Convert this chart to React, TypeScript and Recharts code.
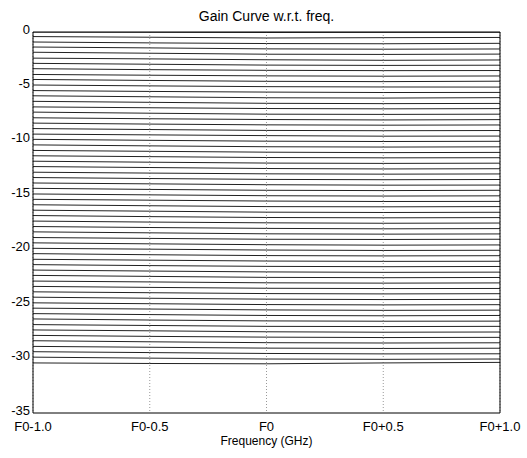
import React from 'react';
import { LineChart, Line, XAxis, YAxis, CartesianGrid } from 'recharts';

// frequency points (GHz offset from F0) and their tick labels
const freqOffsets = [-1, -0.5, 0, 0.5, 1];
const freqLabels = ['F0-1.0', 'F0-0.5', 'F0', 'F0+0.5', 'F0+1.0'];
const gainTicks = [0, -5, -10, -15, -20, -25, -30, -35];

// one row per attenuation state, gain (dB) at each freq point
const gainCurves: number[][] = [
  [0.0, -0.02, -0.04, -0.03, -0.02],
  [-0.42, -0.48, -0.55, -0.52, -0.5],
  [-0.92, -1.0, -1.06, -1.08, -1.04],
  [-1.38, -1.46, -1.55, -1.58, -1.56],
  [-1.86, -1.95, -2.04, -2.06, -2.03],
  [-2.4, -2.47, -2.55, -2.6, -2.57],
  [-2.88, -2.96, -3.04, -3.07, -3.05],
  [-3.37, -3.46, -3.52, -3.55, -3.54],
  [-3.9, -3.97, -4.03, -4.06, -4.04],
  [-4.36, -4.45, -4.53, -4.56, -4.52],
  [-4.87, -4.95, -5.02, -5.05, -5.06],
  [-5.38, -5.46, -5.52, -5.56, -5.55],
  [-5.86, -5.95, -6.04, -6.07, -6.03],
  [-6.37, -6.46, -6.55, -6.58, -6.56],
  [-6.88, -6.96, -7.03, -7.06, -7.04],
  [-7.36, -7.46, -7.55, -7.57, -7.55],
  [-7.88, -7.97, -8.04, -8.08, -8.05],
  [-8.37, -8.46, -8.53, -8.56, -8.54],
  [-8.87, -8.96, -9.04, -9.07, -9.05],
  [-9.38, -9.45, -9.52, -9.57, -9.56],
  [-9.86, -9.95, -10.03, -10.06, -10.04],
  [-10.37, -10.46, -10.54, -10.57, -10.55],
  [-10.88, -10.96, -11.04, -11.08, -11.06],
  [-11.37, -11.45, -11.53, -11.56, -11.55],
  [-11.87, -11.96, -12.04, -12.07, -12.05],
  [-12.36, -12.45, -12.54, -12.58, -12.56],
  [-12.88, -12.96, -13.03, -13.06, -13.04],
  [-13.37, -13.46, -13.54, -13.57, -13.55],
  [-13.87, -13.95, -14.03, -14.07, -14.06],
  [-14.36, -14.46, -14.54, -14.57, -14.54],
  [-14.88, -14.96, -15.04, -15.07, -15.05],
  [-15.37, -15.45, -15.53, -15.57, -15.56],
  [-15.87, -15.96, -16.04, -16.06, -16.04],
  [-16.37, -16.46, -16.55, -16.58, -16.56],
  [-16.86, -16.96, -17.04, -17.07, -17.05],
  [-17.37, -17.46, -17.53, -17.57, -17.55],
  [-17.87, -17.96, -18.04, -18.08, -18.06],
  [-18.36, -18.45, -18.54, -18.57, -18.55],
  [-18.88, -18.96, -19.04, -19.06, -19.04],
  [-19.37, -19.46, -19.54, -19.58, -19.56],
  [-19.87, -19.95, -20.03, -20.07, -20.05],
  [-20.36, -20.46, -20.54, -20.57, -20.55],
  [-20.88, -20.96, -21.04, -21.07, -21.06],
  [-21.37, -21.46, -21.53, -21.56, -21.54],
  [-21.87, -21.96, -22.04, -22.08, -22.06],
  [-22.36, -22.45, -22.54, -22.57, -22.55],
  [-22.88, -22.96, -23.04, -23.07, -23.05],
  [-23.37, -23.46, -23.54, -23.57, -23.56],
  [-23.87, -23.95, -24.03, -24.06, -24.04],
  [-24.36, -24.46, -24.54, -24.58, -24.56],
  [-24.88, -24.96, -25.04, -25.07, -25.05],
  [-25.37, -25.45, -25.53, -25.57, -25.55],
  [-25.87, -25.96, -26.04, -26.07, -26.04],
  [-26.36, -26.46, -26.54, -26.57, -26.56],
  [-26.88, -26.96, -27.04, -27.06, -27.04],
  [-27.37, -27.45, -27.54, -27.58, -27.56],
  [-27.87, -27.96, -28.03, -28.07, -28.05],
  [-28.36, -28.46, -28.54, -28.57, -28.55],
  [-28.88, -28.96, -29.04, -29.07, -29.05],
  [-29.37, -29.45, -29.53, -29.57, -29.56],
  [-29.87, -29.96, -30.04, -30.07, -30.04],
  [-30.4, -30.45, -30.48, -30.4, -30.35],
];

const font = '"Liberation Sans", Arial, sans-serif';

export default function App() {
  const data = freqOffsets.map((f, j) => {
    const row: Record<string, number> = { f };
    gainCurves.forEach((c, i) => {
      row['g' + i] = c[j];
    });
    return row;
  });

  const tickStyle = { fill: '#000', fontSize: 13, fontFamily: font };

  return (
    <div style={{ position: 'absolute', left: 0, top: 0, width: 527, height: 458, background: '#fff', fontFamily: font }}>
      <div style={{ position: 'absolute', top: 8, left: 33, width: 467, textAlign: 'center', fontSize: 14, color: '#000' }}>
        Gain Curve w.r.t. freq.
      </div>
      <LineChart width={527} height={458} data={data} margin={{ top: 31, right: 26, bottom: 0, left: 0 }}>
        <CartesianGrid horizontal={false} strokeDasharray="1 2" stroke="#999" />
        <XAxis
          dataKey="f"
          type="number"
          domain={[-1, 1]}
          ticks={freqOffsets}
          tickFormatter={(v: number) => freqLabels[freqOffsets.indexOf(v)] ?? ''}
          height={45}
          tickLine={false}
          tickSize={0}
          tickMargin={9}
          tick={tickStyle}
          axisLine={{ stroke: '#000' }}
          interval={0}
        />
        <XAxis xAxisId="top" orientation="top" dataKey="f" type="number" domain={[-1, 1]} height={1} tick={false} tickLine={false} axisLine={{ stroke: '#000' }} />
        <YAxis
          type="number"
          domain={[-35, 0]}
          ticks={gainTicks}
          width={33}
          tickLine={false}
          tickSize={0}
          tickMargin={3}
          tick={{ ...tickStyle, dy: -3 }}
          axisLine={{ stroke: '#000' }}
          interval={0}
          allowDataOverflow
        />
        <YAxis yAxisId="right" orientation="right" type="number" domain={[-35, 0]} width={1} tick={false} tickLine={false} axisLine={{ stroke: '#000' }} />
        {gainCurves.map((_, i) => (
          <Line
            key={i}
            dataKey={'g' + i}
            type="linear"
            stroke="#222"
            strokeWidth={1}
            dot={false}
            isAnimationActive={false}
          />
        ))}
      </LineChart>
      <div style={{ position: 'absolute', top: 434, left: 33, width: 467, textAlign: 'center', fontSize: 12, color: '#000' }}>
        Frequency (GHz)
      </div>
    </div>
  );
}
